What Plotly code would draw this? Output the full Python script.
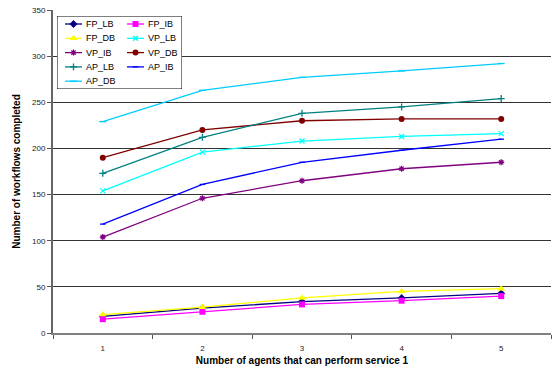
import plotly.graph_objects as go

# Number of agents that can perform service 1
agents = ["1", "2", "3", "4", "5"]

# Workflows completed per strategy
fp_lb = [18, 27, 34, 38, 43]
fp_ib = [15, 23, 31, 35, 40]
fp_db = [20, 28, 38, 45, 48]
vp_lb = [154, 196, 208, 213, 216]
vp_ib = [104, 146, 165, 178, 185]
vp_db = [190, 220, 230, 232, 232]
ap_lb = [173, 212, 238, 245, 254]
ap_ib = [118, 161, 185, 198, 210]
ap_db = [229, 263, 277, 284, 292]

y_ticks = [0, 50, 100, 150, 200, 250, 300, 350]

FONT = "Arial, Liberation Sans, sans-serif"

# name, values, colour, marker symbol, marker size
series = [
    ("FP_LB", fp_lb, "#000080", "diamond", 6),
    ("FP_IB", fp_ib, "#FF00FF", "square", 6),
    ("FP_DB", fp_db, "#FFFF00", "triangle-up", 7),
    ("VP_LB", vp_lb, "#00FFFF", "x-thin-open", 5),
    ("VP_IB", vp_ib, "#800080", "asterisk-open", 5),
    ("VP_DB", vp_db, "#800000", "circle", 6),
    ("AP_LB", ap_lb, "#008080", "cross-thin-open", 5),
    ("AP_IB", ap_ib, "#0000FF", "line-ew-open", 4),
    ("AP_DB", ap_db, "#00CCFF", "line-ew-open", 5),
]

fig = go.Figure()

def marker_for(color, symbol, size):
    if symbol.endswith("-open"):
        return dict(symbol=symbol, size=size, color=color,
                    line=dict(color=color, width=1.3))
    return dict(symbol=symbol, size=size, color=color,
                line=dict(width=0))

for name, vals, color, symbol, size in series:
    fig.add_trace(go.Scatter(
        x=agents, y=vals, name=name, mode="lines+markers",
        line=dict(color=color, width=1.3),
        marker=marker_for(color, symbol, size),
        showlegend=False, xaxis="x", yaxis="y",
    ))

# Two-column legend drawn in its own small box (local pixel units)
BOX_W, BOX_H = 125, 73
ROW0, ROW_STEP = 8, 14.3
COL_X = [8, 70]
SAMPLE_W = 17

annotations = []
for i, (name, vals, color, symbol, size) in enumerate(series):
    row, col = divmod(i, 2)
    yy = ROW0 + row * ROW_STEP
    x0 = COL_X[col]
    fig.add_trace(go.Scatter(
        x=[x0, x0 + SAMPLE_W / 2, x0 + SAMPLE_W], y=[yy, yy, yy],
        mode="lines", line=dict(color=color, width=1.3),
        showlegend=False, hoverinfo="skip", xaxis="x2", yaxis="y2",
    ))
    fig.add_trace(go.Scatter(
        x=[x0 + SAMPLE_W / 2], y=[yy], mode="markers",
        marker=marker_for(color, symbol, size),
        showlegend=False, hoverinfo="skip", xaxis="x2", yaxis="y2",
    ))
    annotations.append(dict(
        x=x0 + SAMPLE_W + 1.5, y=yy, xref="x2", yref="y2", text=name,
        showarrow=False, xanchor="left", yanchor="middle",
        font=dict(family=FONT, size=9, color="#000000"),
    ))

# Plot area in pixels: x 53..551, y 10..333 of a 553x371 page
PL, PR, PT, PB = 53, 551, 10, 333
pw, ph = PR - PL, PB - PT
bx0, by0 = 57, 16
leg_dom_x = [(bx0 - PL) / pw, (bx0 + BOX_W - PL) / pw]
leg_dom_y = [(PB - (by0 + BOX_H)) / ph, (PB - by0) / ph]

fig.update_layout(
    width=553, height=371,
    margin=dict(l=PL, r=553 - PR, t=PT, b=371 - PB),
    paper_bgcolor="white", plot_bgcolor="white",
    font=dict(family=FONT, size=8, color="#000000"),
    xaxis=dict(
        type="category", range=[-0.5, len(agents) - 0.5],
        tickson="boundaries", ticks="outside", ticklen=4,
        ticklabelstandoff=6,
        tickcolor="#555555", showline=True, linecolor="#808080", linewidth=2,
        showgrid=False, zeroline=False,
        tickfont=dict(family=FONT, size=8, color="#222222"),
        title=dict(text="<b>Number of agents that can perform service 1</b>",
                   font=dict(family=FONT, size=10, color="#000000"),
                   standoff=5),
    ),
    yaxis=dict(
        range=[0, 350], tickvals=y_ticks, ticks="outside", ticklen=4,
        tickcolor="#555555", showline=True, linecolor="#666666", linewidth=2,
        showgrid=True, gridcolor="#333333", gridwidth=1, zeroline=False,
        tickfont=dict(family=FONT, size=8, color="#222222"),
        title=dict(text="<b>Number of workflows completed</b>",
                   font=dict(family=FONT, size=10, color="#000000"),
                   standoff=10),
    ),
    xaxis2=dict(domain=leg_dom_x, range=[0, BOX_W], visible=False,
                anchor="y2", fixedrange=True),
    yaxis2=dict(domain=leg_dom_y, range=[BOX_H, 0], visible=False,
                anchor="x2", fixedrange=True),
    shapes=[dict(
        type="rect", xref="x2", yref="y2", x0=0, x1=BOX_W, y0=0, y1=BOX_H,
        line=dict(color="#000000", width=1), fillcolor="white",
        layer="between",
    )],
    annotations=annotations,
    showlegend=False,
)

fig.write_html("out.html")
